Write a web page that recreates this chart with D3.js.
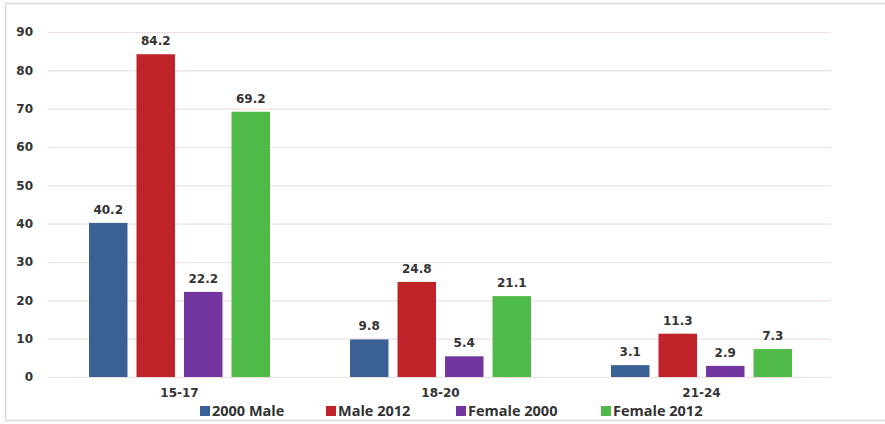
<!DOCTYPE html>
<html><head><meta charset="utf-8">
<script src="https://cdn.jsdelivr.net/npm/d3@7"></script>
<style>body{margin:0;background:#fff}</style>
</head><body>
<svg id="c" width="885" height="424"></svg>
<script>
const categories = ["15-17", "18-20", "21-24"];
const seriesNames = ["2000 Male", "Male 2012", "Female 2000", "Female 2012"];
const male2000 = [40.2, 9.8, 3.1];
const male2012 = [84.2, 24.8, 11.3];
const female2000 = [22.2, 5.4, 2.9];
const female2012 = [69.2, 21.1, 7.3];
const yTicks = [0, 10, 20, 30, 40, 50, 60, 70, 80, 90];
const colors = ["#3a6196", "#c0232a", "#7336a0", "#4fba47"];

const series = [male2000, male2012, female2000, female2012];
const svg = d3.select("#c");

// outer border
svg.append("rect").attr("x", 5.5).attr("y", 3.5).attr("width", 885).attr("height", 417)
  .attr("fill", "none").attr("stroke", "#d9d9d9").attr("stroke-width", 1.5);

const x0 = d3.scaleBand().domain(categories).range([49, 832]).paddingInner(0).paddingOuter(0);
const y = d3.scaleLinear().domain([0, 90]).range([377, 32]);
const x1 = d3.scaleBand().domain(d3.range(4)).range([40, 221]).paddingInner(0.19);

// grid
svg.append("g").selectAll("line").data(yTicks).join("line")
  .attr("x1", 48).attr("x2", 831)
  .attr("y1", d => y(d) + 0.5).attr("y2", d => y(d) + 0.5)
  .attr("stroke", "#eedfe0").attr("stroke-width", 1.2);

// y axis labels
const yAxis = d3.axisLeft(y).tickValues(yTicks).tickSize(0).tickPadding(0);
const ya = svg.append("g").attr("transform", "translate(33,0)").call(yAxis);
ya.select(".domain").remove();
ya.selectAll("text").attr("font-family", "DejaVu Sans").attr("font-weight", "bold")
  .attr("font-size", 12).attr("fill", "#333");

// x axis labels
const xAxis = d3.axisBottom(x0).tickSize(0).tickPadding(0);
const xa = svg.append("g").attr("transform", "translate(0,388)").call(xAxis);
xa.select(".domain").remove();
xa.selectAll("text").attr("font-family", "DejaVu Sans").attr("font-weight", "bold")
  .attr("font-size", 12).attr("fill", "#333");

// bars
const groups = svg.append("g").selectAll("g").data(categories).join("g")
  .attr("transform", d => `translate(${x0(d)},0)`);
groups.each(function(cat, ci) {
  const g = d3.select(this);
  series.forEach((s, si) => {
    const v = s[ci];
    g.append("rect")
      .attr("x", x1(si)).attr("width", x1.bandwidth())
      .attr("y", y(v)).attr("height", y(0) - y(v))
      .attr("fill", colors[si]);
    g.append("text")
      .attr("x", x1(si) + x1.bandwidth() / 2).attr("y", y(v) - 9)
      .attr("text-anchor", "middle")
      .attr("font-family", "DejaVu Sans").attr("font-weight", "bold")
      .attr("font-size", 12).attr("fill", "#333")
      .text(v.toFixed(1));
  });
});

// legend
const legendX = [200, 326, 456, 601];
const lg = svg.append("g").selectAll("g").data(seriesNames).join("g")
  .attr("transform", (d, i) => `translate(${legendX[i]},406)`);
lg.append("rect").attr("width", 10).attr("height", 10).attr("fill", (d, i) => colors[i]);
lg.append("text").attr("x", 12).attr("y", 10)
  .attr("font-family", "Open Sans").attr("font-weight", "bold")
  .attr("font-size", 14.5).attr("fill", "#333").text(d => d);
</script>
</body></html>
